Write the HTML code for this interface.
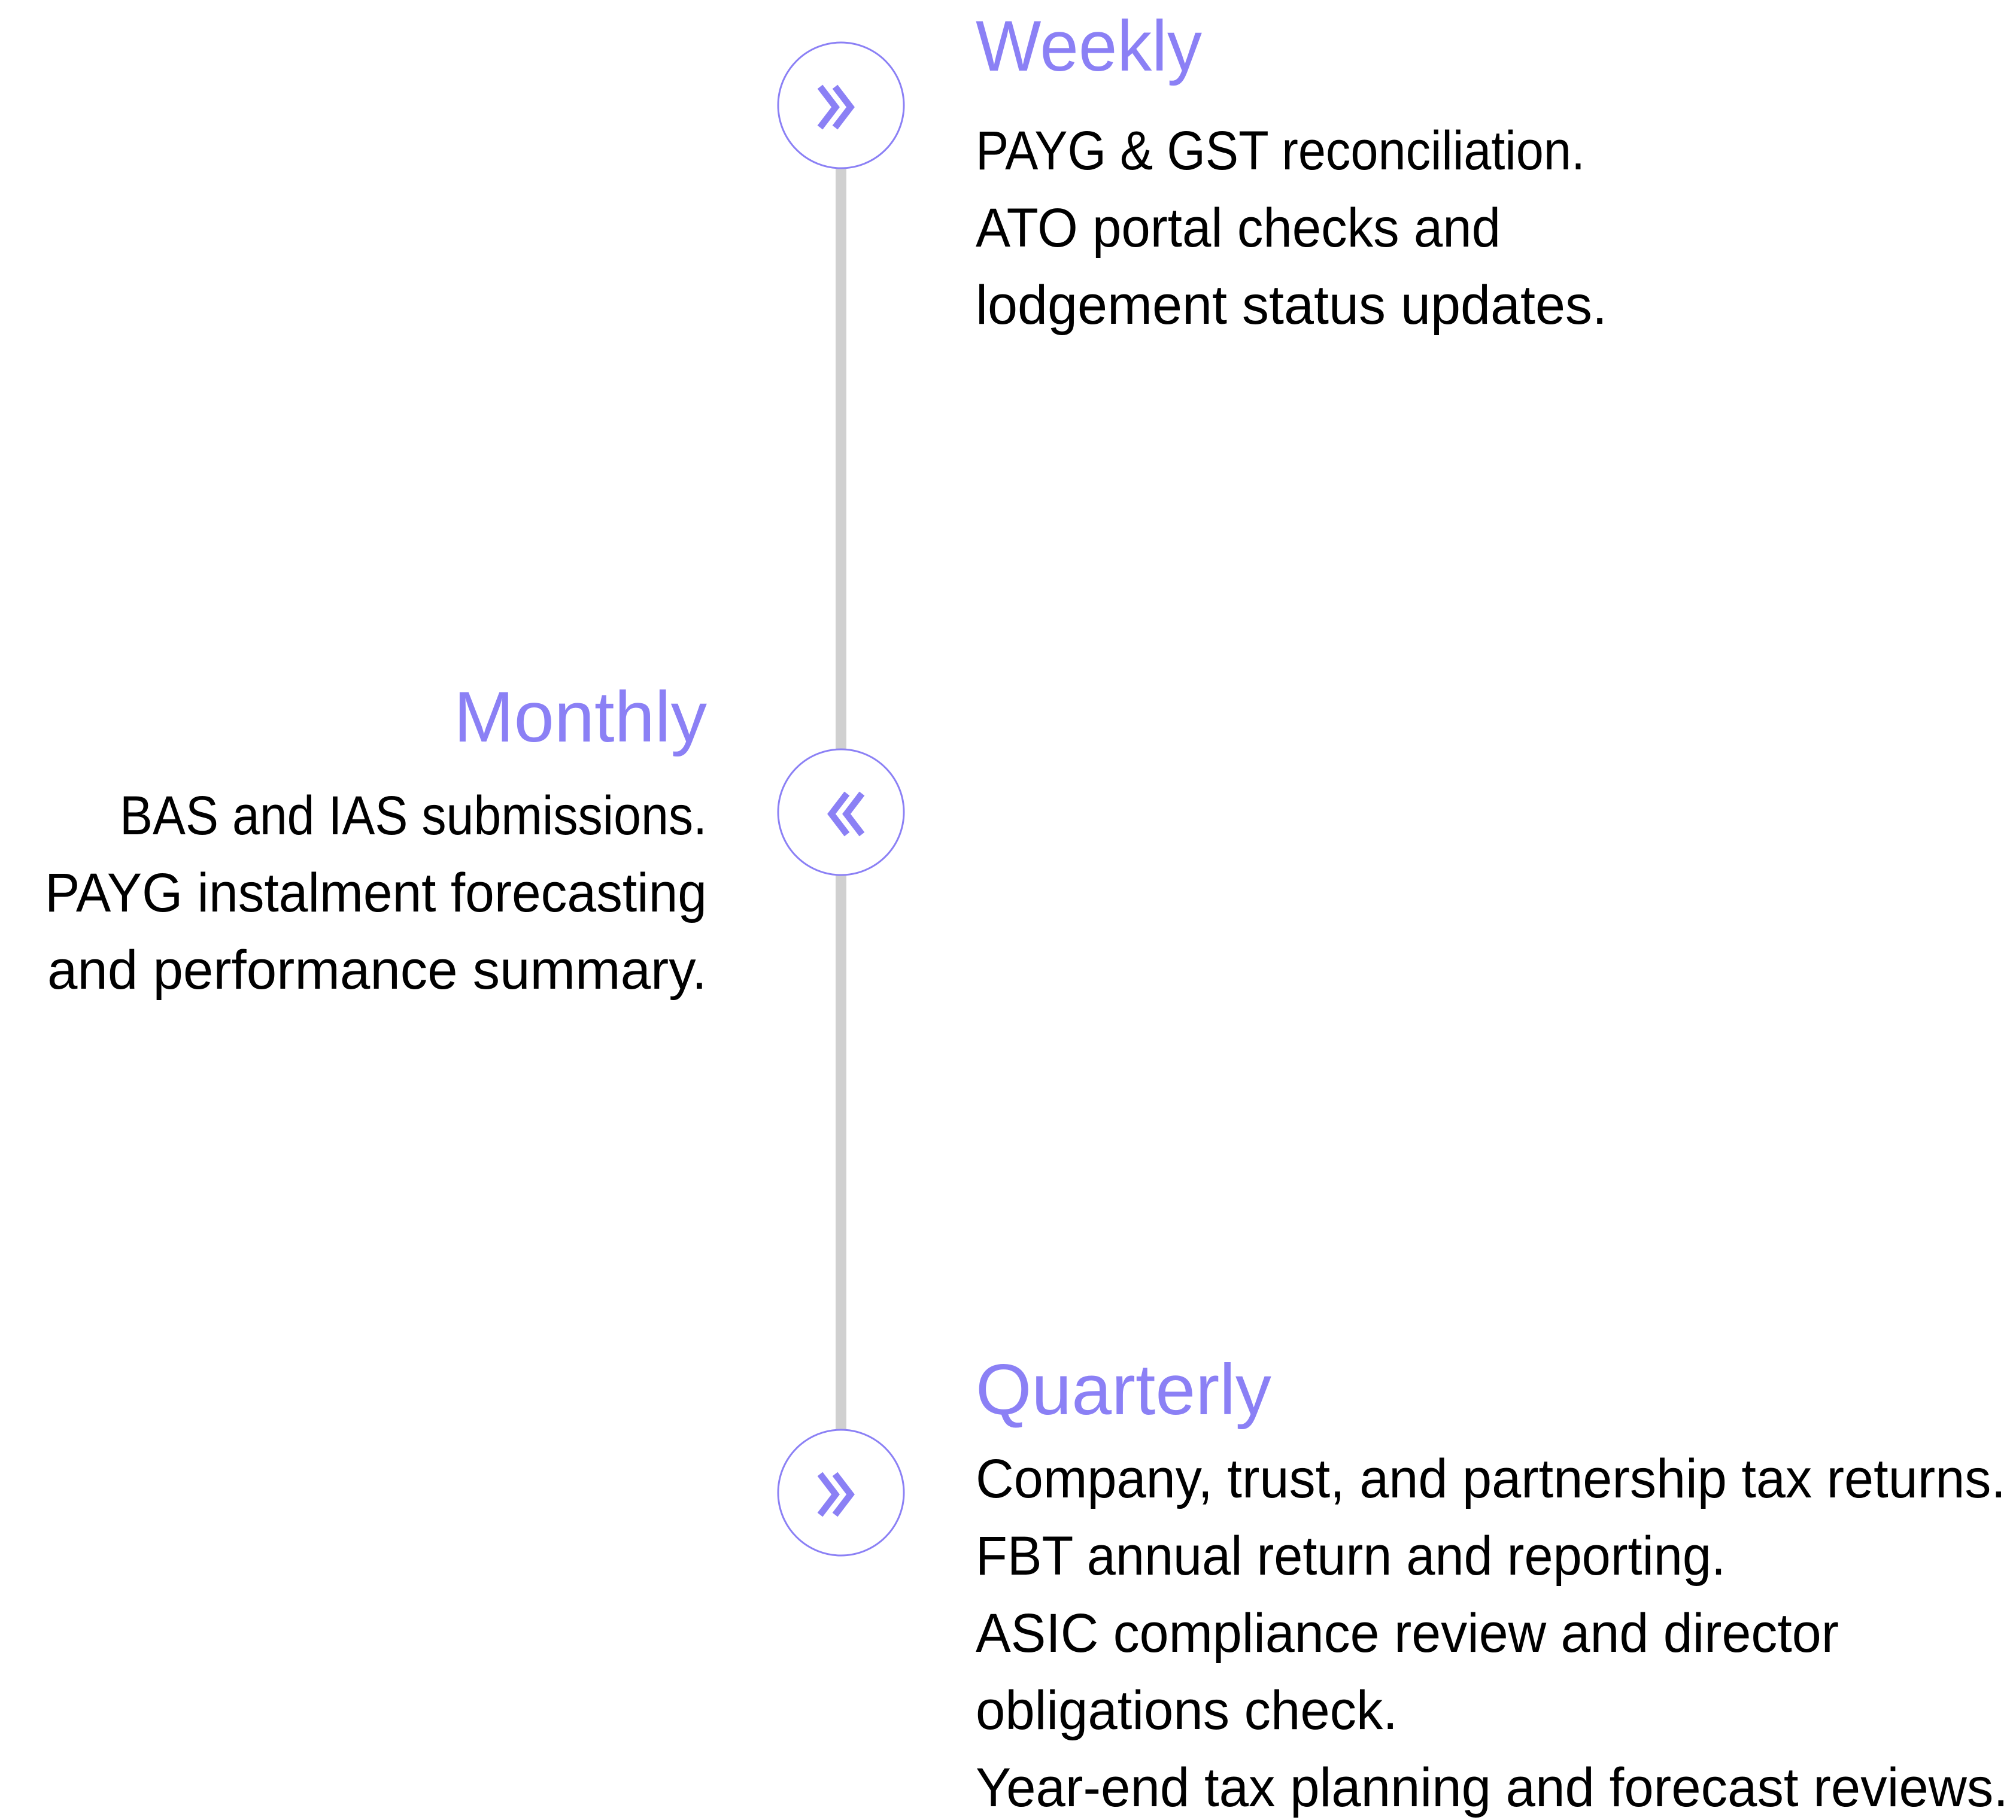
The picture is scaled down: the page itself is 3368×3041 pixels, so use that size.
<!DOCTYPE html>
<html><head><meta charset="utf-8"><style>
html,body{margin:0;padding:0;background:#fff;}
svg{display:block}
text{font-family:"Liberation Sans",sans-serif;}
.h{fill:#8b80f5;font-size:120px;}
.b{fill:#000;font-size:92px;}
</style></head><body>
<svg width="3368" height="3041" viewBox="0 0 3368 3041" xmlns="http://www.w3.org/2000/svg">
<rect x="1396" y="281" width="18" height="2114" fill="#d0d0d0"/>
<g fill="#fff" stroke="#8b80f5" stroke-width="3">
<circle cx="1405" cy="176" r="105"/>
<circle cx="1405" cy="1357" r="105"/>
<circle cx="1405" cy="2494" r="105"/>
</g>
<g fill="none" stroke="#8b80f5" stroke-width="11" stroke-linejoin="miter" stroke-linecap="butt">
<polyline points="1370,145 1396,179 1370,213"/>
<polyline points="1395,145 1421,179 1395,213"/>
<polyline points="1440,1326 1414,1360 1440,1394"/>
<polyline points="1415,1326 1389,1360 1415,1394"/>
<polyline points="1370,2463 1396,2497 1370,2531"/>
<polyline points="1395,2463 1421,2497 1395,2531"/>
</g>
<text class="h" x="1630" y="118" textLength="378" lengthAdjust="spacingAndGlyphs">Weekly</text>
<text class="b" x="1630" y="283" textLength="1018" lengthAdjust="spacingAndGlyphs">PAYG &amp; GST reconciliation.</text>
<text class="b" x="1630" y="412" textLength="877" lengthAdjust="spacingAndGlyphs">ATO portal checks and</text>
<text class="b" x="1630" y="541" textLength="1055" lengthAdjust="spacingAndGlyphs">lodgement status updates.</text>
<text class="h" x="758" y="1239" textLength="423" lengthAdjust="spacingAndGlyphs">Monthly</text>
<text class="b" x="200" y="1394" textLength="981" lengthAdjust="spacingAndGlyphs">BAS and IAS submissions.</text>
<text class="b" x="75" y="1523" textLength="1106" lengthAdjust="spacingAndGlyphs">PAYG instalment forecasting</text>
<text class="b" x="79" y="1652" textLength="1102" lengthAdjust="spacingAndGlyphs">and performance summary.</text>
<text class="h" x="1630" y="2363" textLength="494" lengthAdjust="spacingAndGlyphs">Quarterly</text>
<text class="b" x="1630" y="2502" textLength="1721" lengthAdjust="spacingAndGlyphs">Company, trust, and partnership tax returns.</text>
<text class="b" x="1630" y="2631" textLength="1253" lengthAdjust="spacingAndGlyphs">FBT annual return and reporting.</text>
<text class="b" x="1630" y="2760" textLength="1442" lengthAdjust="spacingAndGlyphs">ASIC compliance review and director</text>
<text class="b" x="1630" y="2889" textLength="705" lengthAdjust="spacingAndGlyphs">obligations check.</text>
<text class="b" x="1630" y="3018" textLength="1725" lengthAdjust="spacingAndGlyphs">Year-end tax planning and forecast reviews.</text>
</svg>
</body></html>
